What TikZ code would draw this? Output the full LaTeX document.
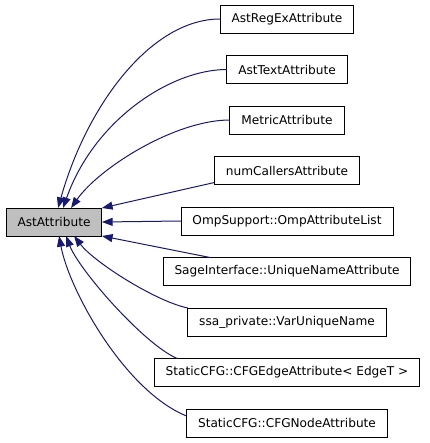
\documentclass[tikz,border=0pt]{standalone}
\usepackage{fontspec}
\setmainfont{DejaVu Sans}
\usepackage{xcolor}
\definecolor{cEdge}{HTML}{191970}
\definecolor{cBase}{HTML}{BFBFBF}
\usepackage{tikz}
\usetikzlibrary{positioning,arrows.meta,calc}
\tikzset{
  node-box/.style={draw=black,line width=0.75pt,fill=white,
    minimum height=21pt,inner xsep=8.6pt,inner ysep=0pt,outer sep=0pt,
    font=\fontsize{9.1}{10}\selectfont},
  node-base/.style={fill=cBase},
  % inheritance edge: child -> base, filled head at the base class
  arrow/.style={-{Triangle[length=8pt,width=6pt]},line width=0.75pt,draw=cEdge},
}

\begin{document}
\begin{tikzpicture}[x=0.75pt,y=-0.75pt,node distance=16.875pt]
  \useasboundingbox (0,0) rectangle (429,443);
  \node[node-box,node-base] (ast) at (54,222) {AstAttribute};
  \node[node-box]                 (regex) at (287,19) {AstRegExAttribute};
  \node[node-box,below=of regex]  (text)   {AstTextAttribute};
  \node[node-box,below=of text]   (metric) {MetricAttribute};
  \node[node-box,below=of metric] (calls)  {numCallersAttribute};
  \node[node-box,below=of calls]  (omp)    {OmpSupport::OmpAttributeList};
  \node[node-box,below=of omp]    (sage)   {SageInterface::UniqueNameAttribute};
  \node[node-box,below=of sage]   (ssa)    {ssa\_private::VarUniqueName};
  \node[node-box,below=of ssa]    (cfge)   {StaticCFG::CFGEdgeAttribute< EdgeT >};
  \node[node-box,below=of cfge]   (cfgn)   {StaticCFG::CFGNodeAttribute};
  \draw[arrow] (regex.west) .. controls +(-69,0) and +(29,-103) .. ($(ast.north west)+(52,0)$);
  \draw[arrow] (text.west) .. controls +(-56,0) and +(31,-88) .. ($(ast.north west)+(57,0)$);
  \draw[arrow] (metric.west) .. controls +(-55,0) and +(28,-40) .. ($(ast.north west)+(65,0)$);
  \draw[arrow] ($(calls.south west)+(0,-2)$) -- (ast.north east);
  \draw[arrow] (omp.west) -- (ast.east);
  \draw[arrow] ($(sage.north west)+(47,0)$) -- (ast.south east);
  \draw[arrow] (ssa.north west) .. controls +(-33,-7) and +(20,26) .. ($(ast.south west)+(68,0)$);
  \draw[arrow] ($(cfge.north west)+(23,0)$) .. controls +(-33,-14) and +(13,34) .. ($(ast.south west)+(60,0)$);
  \draw[arrow] ($(cfgn.north west)+(0,7)$) .. controls +(-62,-25) and +(10,54) .. ($(ast.south west)+(53,0)$);
\end{tikzpicture}
\end{document}
